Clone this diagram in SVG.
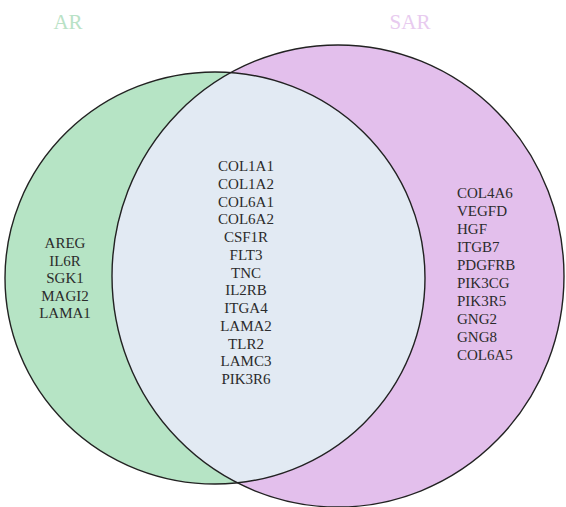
<svg xmlns="http://www.w3.org/2000/svg" width="566" height="507" viewBox="0 0 566 507">
<style>
.lbl{font-family:"Liberation Serif","Times New Roman",serif;font-size:15px;fill:#2b2b2b}
.title{font-family:"Liberation Serif","Times New Roman",serif;font-size:21px;text-anchor:middle}
.edge{fill:none;stroke:#222;stroke-width:1.4}
</style>
<defs>
<clipPath id="clipAR"><ellipse cx="215" cy="278" rx="210" ry="206"/></clipPath>
</defs>
<rect width="566" height="507" fill="#ffffff"/>
<g id="AR">
<ellipse cx="215" cy="278" rx="210" ry="206" fill="#b6e4c5"/>
</g>
<g id="SAR">
<ellipse cx="338" cy="276" rx="226" ry="231" fill="#e3bfec"/>
</g>
<g id="overlap">
<ellipse cx="338" cy="276" rx="226" ry="231" fill="#e2eaf3" clip-path="url(#clipAR)"/>
</g>
<g id="outlines">
<ellipse class="edge" cx="215" cy="278" rx="210" ry="206"/>
<ellipse class="edge" cx="338" cy="276" rx="226" ry="231"/>
</g>
<g id="titles">
<text class="title" x="68" y="29" fill="#b9e2c6">AR</text>
<text class="title" x="410" y="29" fill="#e8cbef">SAR</text>
</g>
<g id="AR-only" class="lbl" text-anchor="middle">
<text x="65" y="248">AREG</text>
<text x="65" y="265.5">IL6R</text>
<text x="65" y="283">SGK1</text>
<text x="65" y="300.5">MAGI2</text>
<text x="65" y="318">LAMA1</text>
</g>
<g id="shared" class="lbl" text-anchor="middle">
<text x="246" y="171">COL1A1</text>
<text x="246" y="188.8">COL1A2</text>
<text x="246" y="206.5">COL6A1</text>
<text x="246" y="224.3">COL6A2</text>
<text x="246" y="242">CSF1R</text>
<text x="246" y="259.8">FLT3</text>
<text x="246" y="277.5">TNC</text>
<text x="246" y="295.3">IL2RB</text>
<text x="246" y="313">ITGA4</text>
<text x="246" y="330.8">LAMA2</text>
<text x="246" y="348.5">TLR2</text>
<text x="246" y="366.3">LAMC3</text>
<text x="246" y="384">PIK3R6</text>
</g>
<g id="SAR-only" class="lbl">
<text x="457" y="198">COL4A6</text>
<text x="457" y="216">VEGFD</text>
<text x="457" y="234">HGF</text>
<text x="457" y="252">ITGB7</text>
<text x="457" y="270">PDGFRB</text>
<text x="457" y="288">PIK3CG</text>
<text x="457" y="306">PIK3R5</text>
<text x="457" y="324">GNG2</text>
<text x="457" y="342">GNG8</text>
<text x="457" y="360">COL6A5</text>
</g>
</svg>
